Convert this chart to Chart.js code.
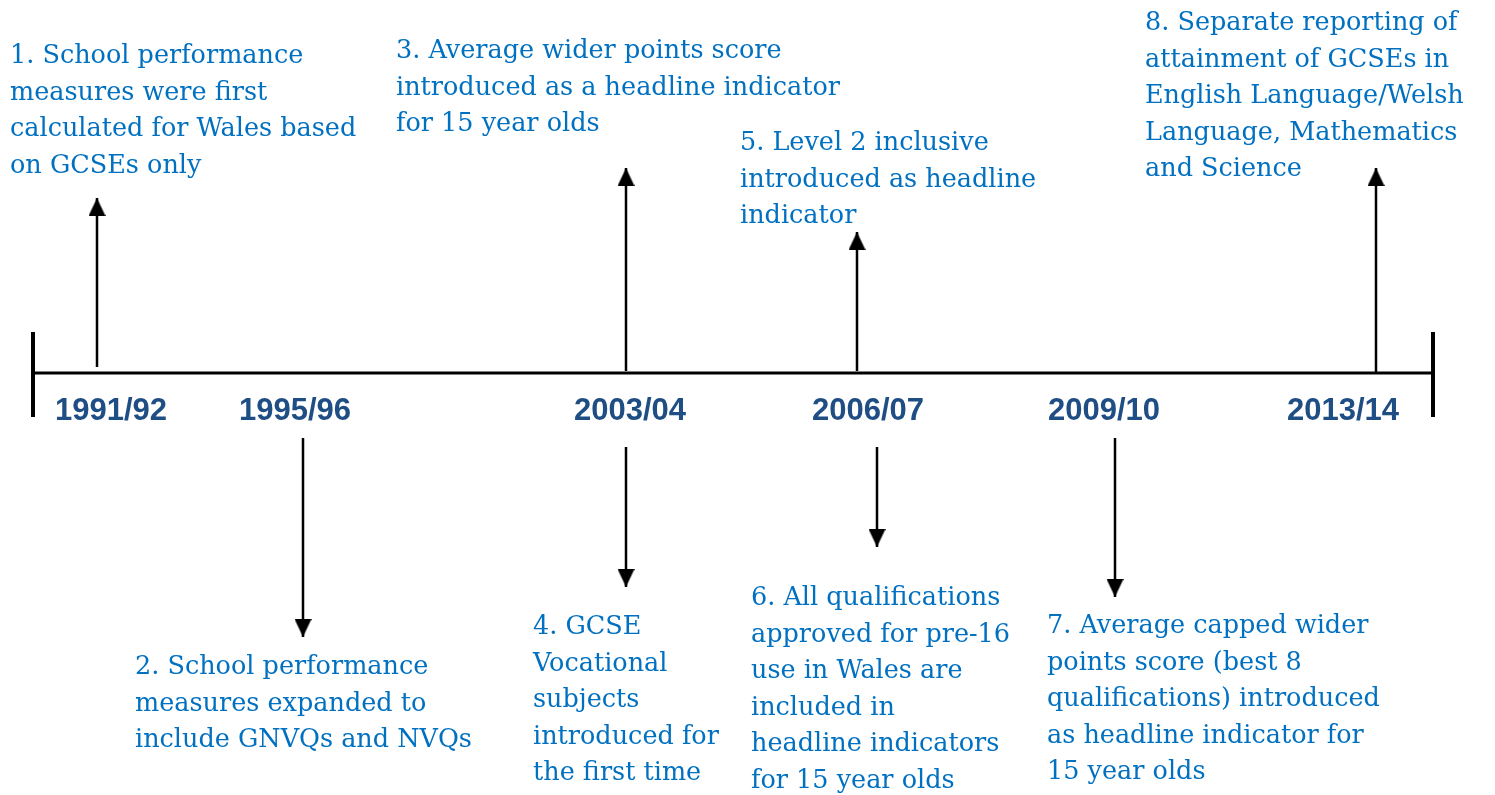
<!DOCTYPE html>
<html>
<head>
<meta charset="utf-8">
<script src="https://cdn.jsdelivr.net/npm/chart.js@4.4.1/dist/chart.umd.min.js"></script>
<style>
  html, body { margin: 0; padding: 0; background: #ffffff; }
  #wrap { width: 1495px; height: 795px; }
</style>
</head>
<body>
<div id="wrap"><canvas id="c" width="1495" height="795"></canvas></div>
<script>
// ---- Data ----
const yearLabels = ['1991/92', '1995/96', '2003/04', '2006/07', '2009/10', '2013/14'];
const yearPositions = [111, 295, 630, 868, 1104, 1343];
const eventNumbers = [1, 2, 3, 4, 5, 6, 7, 8];
const eventPositions = [97, 303, 626, 626, 857, 877, 1115, 1376];
const arrowFrom = [6, -65, 2, -74, 2, -74, -65, 0];
const arrowTo = [175, -264, 205, -214, 141, -174, -224, 205];
const textX = [10, 135, 396, 533, 740, 751, 1047, 1145];
const textY = [310, -301, 315, -261, 223, -232, -260, 343];
const eventTexts = [
  ['1. School performance', 'measures were first', 'calculated for Wales based', 'on GCSEs only'],
  ['2. School performance', 'measures expanded to', 'include GNVQs and NVQs'],
  ['3. Average wider points score', 'introduced as a headline indicator', 'for 15 year olds'],
  ['4. GCSE', 'Vocational', 'subjects', 'introduced for', 'the first time'],
  ['5. Level 2 inclusive', 'introduced as headline', 'indicator'],
  ['6. All qualifications', 'approved for pre-16', 'use in Wales are', 'included in', 'headline indicators', 'for 15 year olds'],
  ['7. Average capped wider', 'points score (best 8', 'qualifications) introduced', 'as headline indicator for', '15 year olds'],
  ['8. Separate reporting of', 'attainment of GCSEs in', 'English Language/Welsh', 'Language, Mathematics', 'and Science']
];
const timelineStart = 33;
const timelineEnd = 1433;
const endTickTop = 41;
const endTickBottom = -44;
const yearLabelY = -47;

// ---- Styles ----
const TEXT_BLUE = '#0070C0';
const YEAR_BLUE = '#1F4E84';
const TEXT_FONT = '25.5px "DejaVu Serif"';
const YEAR_FONT = 'bold 31px "Liberation Sans", Arial, sans-serif';
const LINE_H = 36.5;

// arrow head image (tip at canvas centre, body extending downward)
function makeHead() {
  const w = 17, h = 18;
  const cv = document.createElement('canvas');
  cv.width = w; cv.height = h * 2;
  const g = cv.getContext('2d');
  g.fillStyle = '#000';
  g.beginPath();
  g.moveTo(w / 2, h);
  g.lineTo(w, h * 2);
  g.lineTo(0, h * 2);
  g.closePath();
  g.fill();
  return cv;
}
const head = makeHead();

const datasets = [];
datasets.push({
  data: [{x: timelineStart, y: 0}, {x: timelineEnd, y: 0}],
  borderColor: '#000', borderWidth: 3, pointRadius: 0, showLine: true
});
datasets.push({
  data: [{x: timelineStart, y: endTickTop}, {x: timelineStart, y: endTickBottom}],
  borderColor: '#000', borderWidth: 4, pointRadius: 0, showLine: true
});
datasets.push({
  data: [{x: timelineEnd, y: endTickTop}, {x: timelineEnd, y: endTickBottom}],
  borderColor: '#000', borderWidth: 4, pointRadius: 0, showLine: true
});
eventNumbers.forEach((n, i) => {
  const up = arrowTo[i] > arrowFrom[i];
  datasets.push({
    label: 'Event ' + n,
    data: [{x: eventPositions[i], y: arrowFrom[i]}, {x: eventPositions[i], y: arrowTo[i]}],
    borderColor: '#000', borderWidth: 2.5, showLine: true,
    pointRadius: [0, 8], pointStyle: head, rotation: up ? 0 : 180,
    pointBackgroundColor: '#000', pointBorderWidth: 0
  });
});

const labelsPlugin = {
  id: 'timelineLabels',
  afterDatasetsDraw(chart) {
    const ctx = chart.ctx;
    const xs = chart.scales.x, ys = chart.scales.y;
    ctx.save();
    ctx.fillStyle = YEAR_BLUE;
    ctx.font = YEAR_FONT;
    ctx.textAlign = 'center';
    ctx.textBaseline = 'alphabetic';
    yearLabels.forEach((t, i) => {
      ctx.fillText(t, xs.getPixelForValue(yearPositions[i]), ys.getPixelForValue(yearLabelY));
    });
    ctx.fillStyle = TEXT_BLUE;
    ctx.font = TEXT_FONT;
    ctx.textAlign = 'left';
    eventTexts.forEach((lines, i) => {
      const px = xs.getPixelForValue(textX[i]);
      const py = ys.getPixelForValue(textY[i]);
      lines.forEach((ln, k) => ctx.fillText(ln, px, py + k * LINE_H));
    });
    ctx.restore();
  }
};

new Chart(document.getElementById('c'), {
  type: 'scatter',
  data: { datasets },
  options: {
    responsive: false,
    animation: false,
    devicePixelRatio: 1,
    events: [],
    layout: { padding: 0, autoPadding: false },
    plugins: { legend: { display: false }, tooltip: { enabled: false } },
    elements: { line: { tension: 0, borderCapStyle: 'butt' } },
    scales: {
      x: { type: 'linear', display: false, min: 0, max: 1495 },
      y: { type: 'linear', display: false, min: -422, max: 373 }
    }
  },
  plugins: [labelsPlugin]
});
</script>
</body>
</html>
